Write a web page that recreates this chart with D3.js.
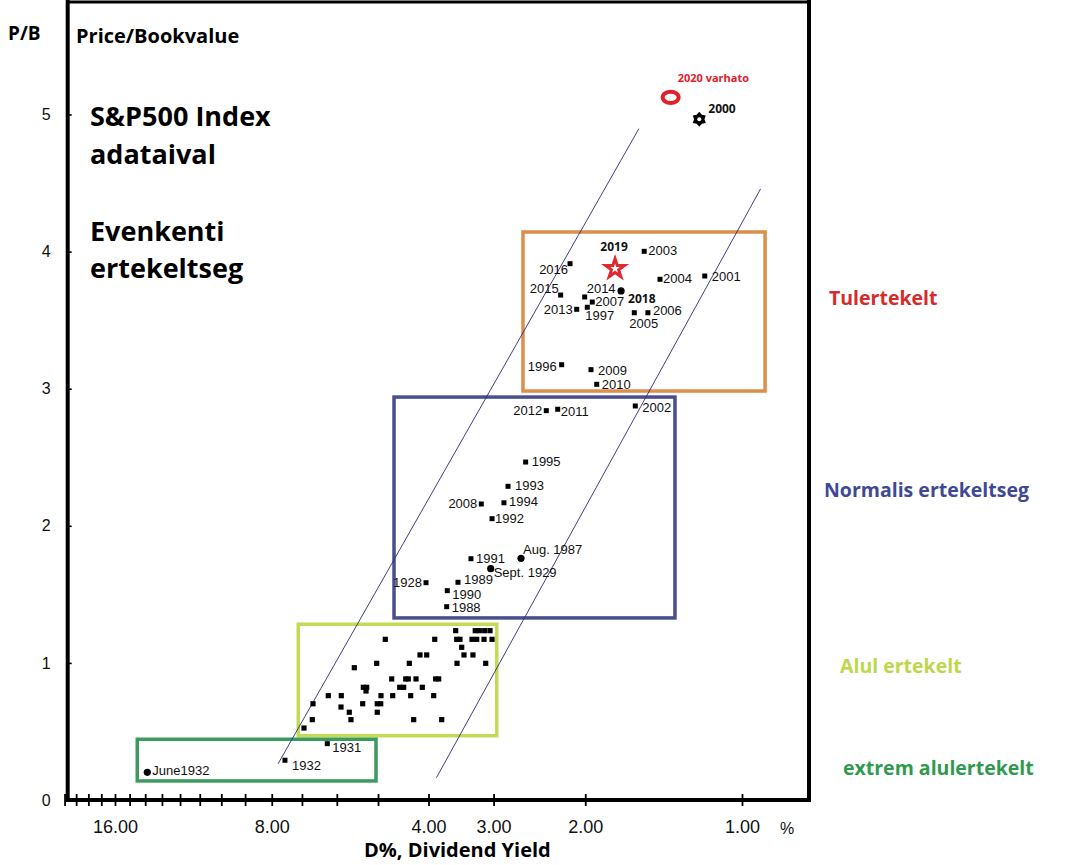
<!DOCTYPE html>
<html><head><meta charset="utf-8">
<script src="https://cdn.jsdelivr.net/npm/d3@7"></script>
<style>body{margin:0;background:#fff}svg{display:block}</style>
</head><body>
<svg id="chart" width="1089" height="865"></svg>
<script>
// ---------------- DATA ----------------
const yearLabels = ["2000","2020 varhato","2003","2016","2019","2004","2001","2015","2014","2018","2007","1997","2013","2005","2006","1996","2009","2010","2012","2011","2002","1995","1993","2008","1994","1992","Aug. 1987","1991","Sept. 1929","1928","1989","1990","1988","1931","1932","June1932"];
const yearYield = [1.208,1.371,1.541,2.139,1.753,1.437,1.179,2.230,2.005,1.707,1.939,1.982,2.077,1.610,1.516,2.220,1.950,1.901,2.376,2.259,1.603,2.603,2.814,3.167,2.865,3.020,2.657,3.315,3.038,4.044,3.511,3.681,3.691,6.258,7.546,13.87];
const yearPB = [4.965,5.125,4.002,3.912,3.883,3.798,3.822,3.683,3.669,3.713,3.632,3.594,3.579,3.554,3.554,3.175,3.139,3.032,2.840,2.850,2.874,2.465,2.288,2.159,2.168,2.052,1.763,1.760,1.687,1.585,1.588,1.527,1.410,0.411,0.290,0.202];
const yearMarker = ["hexstar","ring","square","square","star","square","square","square","square","dot","square","square","square","square","square","square","square","square","square","square","square","square","square","square","square","square","dot","square","dot","square","square","square","square","square","square","dot"];

const otherYield = [3.547,3.253,3.195,3.120,3.047, 4.842,3.891,3.531,3.480,3.300,3.232,3.129,3.020, 3.454, 4.153,4.032,3.419,3.286, 5.030,4.354,3.526,3.106, 5.553, 4.707,4.424,4.374,4.227,3.875,3.824, 5.336,5.257,4.543,4.464,4.111, 5.273, 6.230,5.882,4.935,4.686,4.328,3.909, 6.666,5.351,5.017,4.941, 5.890, 5.678,5.017, 6.687,5.636,4.271,3.773, 6.937];
const otherPB = [1.235,1.235,1.235,1.235,1.235, 1.172,1.172,1.172,1.172,1.172,1.172,1.172,1.172, 1.114, 1.058,1.058,1.058,1.058, 0.997,0.997,0.997,0.997, 0.965, 0.883,0.883,0.883,0.883,0.883,0.883, 0.822,0.822,0.822,0.822,0.822, 0.795, 0.761,0.761,0.761,0.761,0.761,0.761, 0.702,0.702,0.702,0.702, 0.678, 0.640,0.640, 0.586,0.586,0.586,0.586, 0.525];

const trendStartYield = [7.78, 3.861];
const trendStartPB = [0.264, 0.163];
const trendEndYield = [1.578, 0.921];
const trendEndPB = [4.896, 4.458];

const zoneNames = ["Tulertekelt","Normalis ertekeltseg","Alul ertekelt","extrem alulertekelt"];
const zoneYieldHigh = [2.634, 4.659, 7.115, 14.50];
const zoneYieldLow = [0.903, 1.345, 2.958, 5.045];
const zonePBHigh = [4.143, 2.939, 1.282, 0.443];
const zonePBLow = [2.983, 1.328, 0.469, 0.139];

const xTickValues = [1,2,3,4,5,6,7,8,9,10,11,12,13,14,15,16,17,18,19,20];
const xLabelValues = [16,8,4,3,2,1];
const xLabelText = ["16.00","8.00","4.00","3.00","2.00","1.00"];
const yTickValues = [0,1,2,3,4,5];

const titleLines = ["S&P500 Index","adataival","Evenkenti","ertekeltseg"];

// ---------------- LAYOUT / STYLE ----------------
const zoneColors = ["#DE8E4B","#4A4E8C","#C3DA55","#3C9A5E"];
const zoneTextColors = ["#D62B2B","#3F4896","#BCD84A","#2F9A4F"];
const zoneTextPos = [[829,305],[824,497],[840,673],[843,775]];
const labelOffset = {
 "2000":[9,-6,"start"], "2020 varhato":[7,-15,"start"],
 "2003":[4,4,"start"], "2016":[-2,10,"end"], "2019":[-1,-17,"middle"], "2004":[3,4,"start"],
 "2001":[7,5,"start"], "2015":[-2,-2,"end"], "2014":[2,-4,"start"], "2018":[7,12,"start"],
 "2007":[3,4,"start"], "1997":[-2,13,"start"], "2013":[-4,5,"end"], "2005":[-5,15,"start"],
 "2006":[5,2,"start"], "1996":[-5,6,"end"], "2009":[7,5,"start"], "2010":[5,5,"start"],
 "2012":[-4,4,"end"], "2011":[3,7,"start"], "2002":[7,6,"start"], "1995":[6,4,"start"],
 "1993":[7,4,"start"], "2008":[-4,4,"end"], "1994":[5,3,"start"], "1992":[3,4,"start"],
 "Aug. 1987":[2,-4,"start"], "1991":[5,4,"start"], "Sept. 1929":[3,8,"start"], "1928":[-4,4,"end"],
 "1989":[6,2,"start"], "1990":[5,8,"start"], "1988":[5,5,"start"], "1931":[5,8,"start"],
 "1932":[7,10,"start"], "June1932":[5,3,"start"]
};
const boldLabels = ["2000","2020 varhato","2019","2018"];
const BOLD = "'Open Sans', 'Noto Sans', sans-serif";
const PLAIN = "'Liberation Sans', Arial, sans-serif";

const svg = d3.select("#chart");
svg.append("rect").attr("width",1089).attr("height",865).attr("fill","#fff");

const x = d3.scaleLog().domain([16, 1]).range([115, 742]);
const y = d3.scaleLinear().domain([0, 5]).range([800, 114.5]);
const frameL = 67.7, frameR = 809, frameT = 2, frameB = 800;

// zone boxes
const zones = zoneNames.map((n,i)=>({n,i}));
svg.append("g").selectAll("rect").data(zones).join("rect")
  .attr("x", d=>x(zoneYieldHigh[d.i]))
  .attr("y", d=>y(zonePBHigh[d.i]))
  .attr("width", d=>x(zoneYieldLow[d.i]) - x(zoneYieldHigh[d.i]))
  .attr("height", d=>y(zonePBLow[d.i]) - y(zonePBHigh[d.i]))
  .attr("fill","none").attr("stroke",d=>zoneColors[d.i]).attr("stroke-width",3.5);

// trend lines
svg.append("g").selectAll("line").data([0,1]).join("line")
  .attr("x1", i=>x(trendStartYield[i])).attr("y1", i=>y(trendStartPB[i]))
  .attr("x2", i=>x(trendEndYield[i])).attr("y2", i=>y(trendEndPB[i]))
  .attr("stroke","#2a2a7a").attr("stroke-width",0.9);

// unlabeled points
svg.append("g").selectAll("rect").data(otherYield.map((v,i)=>i)).join("rect")
  .attr("x", i=>x(otherYield[i])-2.6).attr("y", i=>y(otherPB[i])-2.6)
  .attr("width",5.2).attr("height",5.2).attr("fill","#000");

// labeled points
const pts = yearLabels.map((l,i)=>({l, xv:yearYield[i], yv:yearPB[i], m:yearMarker[i]}));
const gp = svg.append("g");
pts.forEach(p=>{
  const cx = x(p.xv), cy = y(p.yv);
  if (p.m === "square") {
    gp.append("rect").attr("x",cx-2.5).attr("y",cy-2.5).attr("width",5).attr("height",5).attr("fill","#000");
  } else if (p.m === "dot") {
    gp.append("circle").attr("cx",cx).attr("cy",cy).attr("r",3.6).attr("fill","#000");
  } else if (p.m === "star") {
    gp.append("path").attr("d", d3.symbol(d3.symbolStar, 110)())
      .attr("transform",`translate(${cx},${cy+1})`)
      .attr("fill","#fff").attr("stroke","#E0282E").attr("stroke-width",3).attr("stroke-linejoin","miter");
  } else if (p.m === "ring") {
    gp.append("ellipse").attr("cx",cx).attr("cy",cy).attr("rx",8).attr("ry",5.6)
      .attr("fill","#fff").attr("stroke","#E3202A").attr("stroke-width",4);
  } else if (p.m === "hexstar") {
    const pp = [];
    for (let k=0;k<12;k++){ const a = Math.PI/6*k - Math.PI/2; const r = k%2===0?7.5:5.2; pp.push([cx+r*Math.cos(a), cy+r*Math.sin(a)]); }
    gp.append("path").attr("d", d3.line()(pp)+"Z").attr("fill","#000");
    gp.append("circle").attr("cx",cx).attr("cy",cy).attr("r",2).attr("fill","#fff");
  }
  const o = labelOffset[p.l];
  const bold = boldLabels.includes(p.l);
  gp.append("text").attr("x",cx+o[0]).attr("y",cy+o[1]).attr("text-anchor",o[2])
    .attr("font-family", bold?BOLD:PLAIN).attr("font-weight", bold?700:400)
    .attr("font-size", bold?(p.l==="2020 varhato"?11:12):13)
    .attr("fill", p.l==="2020 varhato"?"#E3202A":"#111").text(p.l);
});

// frame
svg.append("line").attr("x1",frameL).attr("x2",frameR).attr("y1",frameT).attr("y2",frameT).attr("stroke","#000").attr("stroke-width",3);
svg.append("line").attr("x1",frameR).attr("x2",frameR).attr("y1",0).attr("y2",frameB).attr("stroke","#000").attr("stroke-width",4);

// x axis
const xAxis = svg.append("g").attr("transform",`translate(0,${frameB})`)
  .call(d3.axisBottom(x).tickValues(xTickValues).tickSizeInner(6).tickSizeOuter(0).tickFormat(""));
xAxis.select(".domain").remove();
xAxis.selectAll(".tick line").attr("y1",-6).attr("stroke","#000").attr("stroke-width",1.8);
const xLab = svg.append("g").attr("transform",`translate(0,${frameB})`)
  .call(d3.axisBottom(x).tickValues(xLabelValues).tickSize(0).tickPadding(20).tickFormat((d,i)=>xLabelText[i]));
xLab.select(".domain").remove();
xLab.selectAll("text").attr("font-family",PLAIN).attr("font-size",18).attr("fill","#111");
svg.append("text").attr("x",780).attr("y",834).attr("font-family",PLAIN).attr("font-size",16).attr("fill","#111").text("%");
svg.append("line").attr("x1",frameL-2).attr("x2",frameR+2).attr("y1",frameB).attr("y2",frameB).attr("stroke","#000").attr("stroke-width",4);

// y axis
const yAxis = svg.append("g").attr("transform",`translate(${frameL},0)`)
  .call(d3.axisLeft(y).tickValues(yTickValues).tickSizeInner(7).tickSizeOuter(0).tickPadding(10).tickFormat(d3.format("d")));
yAxis.select(".domain").remove();
yAxis.selectAll(".tick line").attr("x2",4).attr("stroke","#000").attr("stroke-width",1.6);
yAxis.selectAll("text").attr("font-family",PLAIN).attr("font-size",16).attr("fill","#111");
svg.append("line").attr("x1",frameL).attr("x2",frameL).attr("y1",0).attr("y2",frameB+2).attr("stroke","#000").attr("stroke-width",4);

// titles
svg.append("text").attr("x",8).attr("y",40).attr("font-family",BOLD).attr("font-weight",700).attr("font-size",19).text("P/B");
svg.append("text").attr("x",76).attr("y",43).attr("font-family",BOLD).attr("font-weight",700).attr("font-size",20).text("Price/Bookvalue");
svg.append("text").attr("x",364).attr("y",857).attr("font-family",BOLD).attr("font-weight",700).attr("font-size",20).text("D%, Dividend Yield");
const titleY = [126,164,241,278];
titleLines.forEach((t,i)=>svg.append("text").attr("x",90).attr("y",titleY[i]).attr("font-family",BOLD).attr("font-weight",700).attr("font-size",27).attr("fill","#000").text(t));

// zone labels
zoneNames.forEach((n,i)=>svg.append("text").attr("x",zoneTextPos[i][0]).attr("y",zoneTextPos[i][1])
  .attr("font-family",BOLD).attr("font-weight",700).attr("font-size",19.5).attr("fill",zoneTextColors[i]).text(n));
</script>
</body></html>
